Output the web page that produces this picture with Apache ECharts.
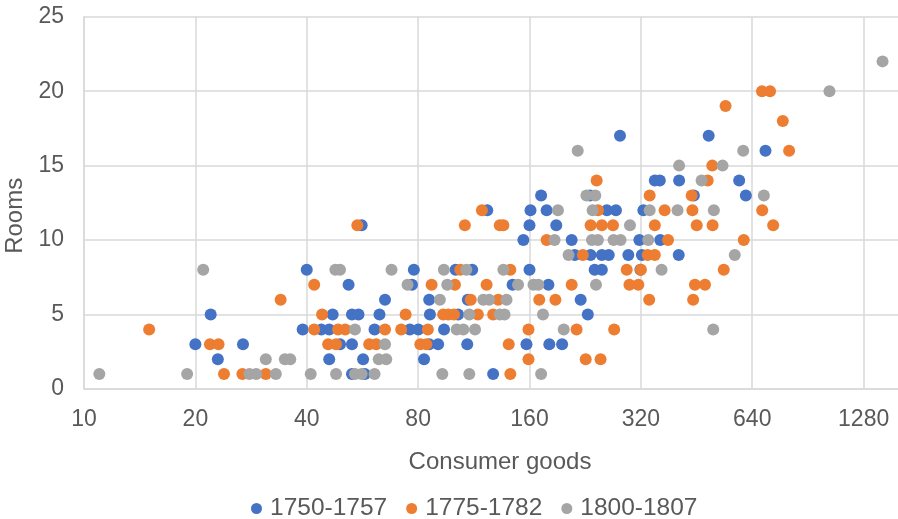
<!DOCTYPE html>
<html>
<head>
<meta charset="utf-8">
<script src="https://cdn.jsdelivr.net/npm/echarts@6/dist/echarts.min.js"></script>
<style>
html,body{margin:0;padding:0;background:#fff;}
#chart{width:898px;height:519px;}
</style>
</head>
<body>
<div id="chart"></div>
<script>
// [consumer goods, rooms]
const s1750 = [
  [281,17],[488,17],
  [695,16],
  [349,14],[360,14],[406,14],[590,14],
  [172,13],[233,13],[445,13],[615,13],
  [123,12],[161,12],[178,12],[259,12],[274,12],[325,12],
  [56.3,11],[160,11],[189,11],
  [154,10],[208,10],[317,10],[361,10],
  [212,9],[234,9],[251,9],[262,9],[296,9],[322,9],[405,9],
  [40,8],[77.9,8],[101,8],[112,8],[160,8],[240,8],[251,8],[319,8],
  [51.9,7],[77,7],[144,7],[180,7],
  [65.1,6],[85.7,6],[109,6],[220,6],
  [22,5],[47,5],[53,5],[55.2,5],[62.9,5],[86.1,5],[102.6,5],[230,5],
  [39,4],[43.8,4],[46,4],[61,4],[76,4],[80.1,4],[94,4],
  [20,3],[26.9,3],[49.2,3],[53,3],[85.7,3],[90.6,3],[108.6,3],[157,3],[181,3],[196,3],
  [23,2],[46,2],[56.8,2],[83,2],
  [53,1],[57.4,1],[127.6,1]
];
const s1775 = [
  [680,20],[715,20],
  [542,19],
  [774,18],
  [805,16],
  [499,15],
  [243,14],[485,14],
  [338,13],[439,13],
  [119,12],[245,12],[371,12],[441,12],[681,12],
  [54.8,11],[107,11],[133,11],[136,11],[234,11],[251,11],[269,11],[349,11],[453,11],[500,11],[729,11],
  [178,10],[379,10],[607,10],
  [223,9],[334,9],[349,9],
  [104,8],[142,8],[293,8],[320,8],[536,8],
  [41.9,7],[87,7],[100.6,7],[122.5,7],[208,7],[298,7],[315,7],[448,7],[477,7],
  [34,6],[111,6],[131.7,6],[170,6],[188,6],[337,6],[443,6],
  [44,5],[74,5],[93.5,5],[96.5,5],[100,5],[116,5],[127.6,5],
  [15,4],[41.9,4],[48.6,4],[50.8,4],[65.1,4],[72,4],[85,4],[159,4],[214.5,4],[271,4],
  [21.9,3],[23.1,3],[45.7,3],[48,3],[59,3],[61.6,3],[81.1,3],[84.2,3],[140.6,3],
  [159,2],[227,2],[249,2],
  [23.9,1],[26.8,1],[31,1],[142,1]
];
const s1800 = [
  [1440,22],
  [1035,20],
  [216,16],[605,16],
  [406,15],[532,15],
  [467,14],
  [228,13],[241,13],[688,13],
  [191,12],[237,12],[338,12],[402,12],[504,12],
  [299,11],
  [187,10],[236,10],[245,10],[270,10],[282,10],[335,10],
  [204,9],[574,9],
  [21,8],[47.8,8],[49.2,8],[67.8,8],[93.9,8],[108,8],[136,8],[364,8],
  [74.9,7],[95.9,7],[149,7],[164,7],[169,7],[242,7],
  [91.6,6],[120,6],[124.5,6],[138.7,6],
  [110,5],[133,5],[137,5],[174,5],
  [54,4],[101.7,4],[106,4],[114,4],[198,4],[502,4],
  [65.1,3],
  [31,2],[34.9,2],[36.1,2],[62.6,2],[65.6,2],
  [11,1],[19,1],[28,1],[29.2,1],[33,1],[41,1],[48,1],[54,1],[56.3,1],[61,1],[93,1],[110,1],[172,1]
];
const seriesNames = ['1750-1757','1775-1782','1800-1807'];
const seriesColors = ['#4472C4','#ED7D31','#A5A5A5'];
const xTicks = [10,20,40,80,160,320,640,1280];
const yTicks = [0,5,10,15,20,25];

const FONT = 'Liberation Sans, Arial, sans-serif';
const chart = echarts.init(document.getElementById('chart'), null, {renderer:'canvas'});
const datasets = [s1750, s1775, s1800];
chart.setOption({
  animation: false,
  backgroundColor: '#ffffff',
  textStyle: {fontFamily: FONT},
  grid: {left: 84, top: 16.7, width: 891, height: 372.3, containLabel: false, outerBoundsMode: 'none'},
  legend: {
    data: seriesNames,
    left: 246, top: 491,
    icon: 'circle', itemWidth: 11, itemHeight: 11, itemGap: 19,
    textStyle: {fontSize: 24.5, color: '#595959', fontFamily: FONT, padding: [0,0,0,3]}
  },
  xAxis: {
    type: 'log', logBase: 2, min: 10, max: 2560,
    name: 'Consumer goods', nameLocation: 'middle', nameGap: 61,
    nameTextStyle: {fontSize: 24, color: '#595959', fontFamily: FONT, padding: [0, 59, 0, 0]},
    axisLine: {show: true, lineStyle: {color: '#D9D9D9', width: 1.5}},
    axisTick: {show: false, customValues: xTicks},
    axisLabel: {customValues: xTicks, fontSize: 23, color: '#595959', fontFamily: FONT, margin: 19,
      formatter: v => String(Math.round(v))},
    splitLine: {show: true, lineStyle: {color: '#D9D9D9', width: 1.5}}
  },
  yAxis: {
    type: 'value', min: yTicks[0], max: yTicks[yTicks.length-1], interval: 5,
    name: 'Rooms', nameLocation: 'middle', nameGap: 54, nameRotate: 90,
    nameTextStyle: {fontSize: 24, color: '#595959', fontFamily: FONT, padding: [0, 26, 0, 0]},
    axisLine: {show: true, lineStyle: {color: '#D9D9D9', width: 1.5}},
    axisTick: {show: false},
    axisLabel: {fontSize: 23, color: '#595959', fontFamily: FONT, margin: 20},
    splitLine: {show: true, lineStyle: {color: '#D9D9D9', width: 1.5}}
  },
  series: datasets.map((d, i) => ({
    name: seriesNames[i],
    type: 'scatter',
    data: d,
    symbol: 'circle',
    symbolSize: 12,
    itemStyle: {color: seriesColors[i], opacity: 1},
    emphasis: {disabled: true}
  }))
});
</script>
</body>
</html>
